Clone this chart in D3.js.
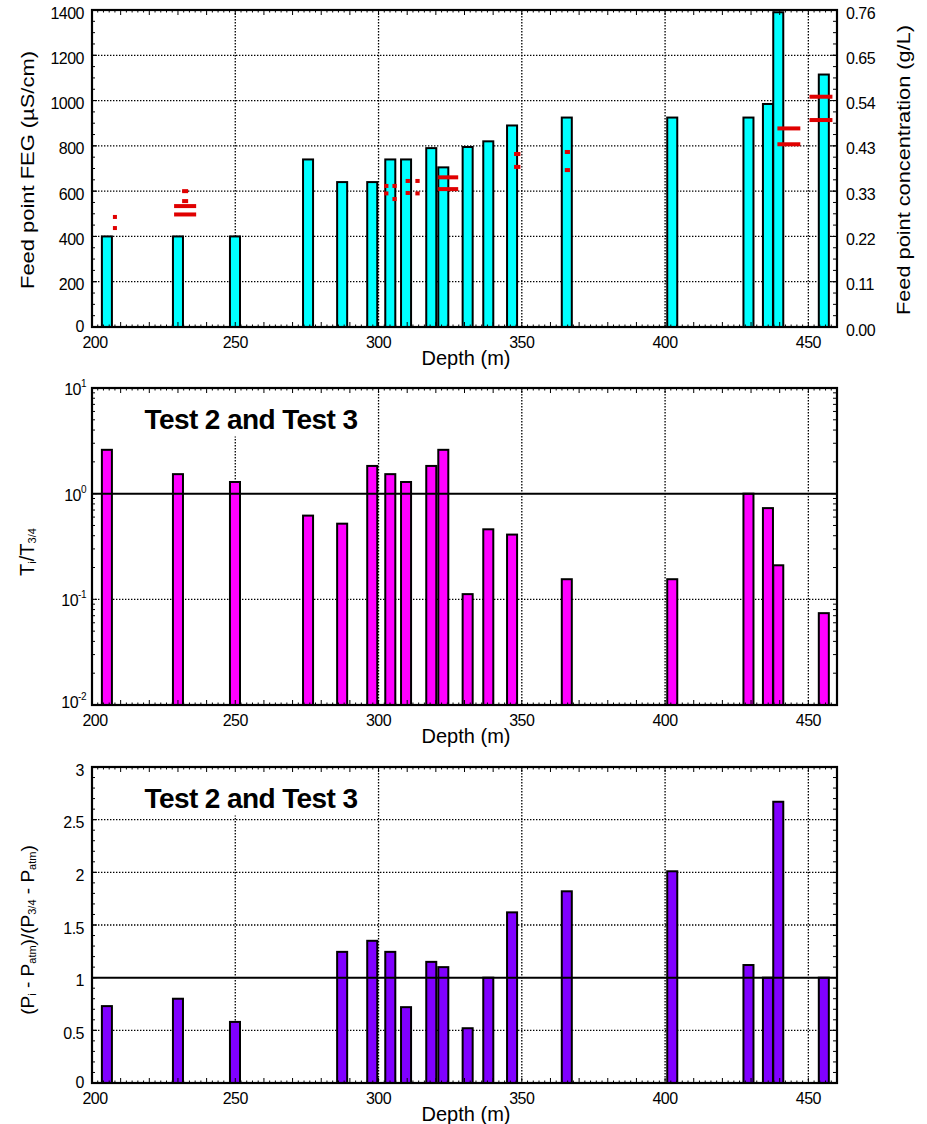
<!DOCTYPE html>
<html><head><meta charset="utf-8">
<script src="https://cdn.jsdelivr.net/npm/d3@7"></script>
<style>
body{margin:0;background:#fff}
svg{display:block}
text{font-family:"Liberation Sans",Arial,sans-serif;fill:#000}
</style>
</head><body>
<svg id="c" width="927" height="1124"></svg>
<script>
// ---------------- DATA ----------------
const depths   = [205.2, 230.0, 249.9, 275.4, 287.3, 297.8, 304.1, 309.6, 318.4, 322.6, 331.1, 338.3, 346.6, 365.7, 402.5, 429.1, 435.9, 439.5, 455.4];
const fecValues = [400, 400, 400, 740, 640, 640, 740, 740, 790, 705, 795, 820, 890, 925, 925, 925, 985, 1390, 1115];
const transRatio = [2.6, 1.53, 1.29, 0.62, 0.52, 1.83, 1.53, 1.29, 1.83, 2.6, 0.112, 0.46, 0.41, 0.155, 0.155, 1.0, 0.73, 0.21, 0.074];
const pressRatio = [0.73, 0.80, 0.58, null, 1.245, 1.35, 1.245, 0.72, 1.15, 1.10, 0.52, 1.0, 1.62, 1.82, 2.01, 1.12, 1.0, 2.67, 1.0];

// red feed-point range marks (depth, FEC value, span in m)
const markDepths = [208.0, 208.0, 232.5, 232.5, 232.5, 232.5, 302.7, 302.7, 305.6, 305.6, 310.2, 310.2, 313.6, 313.6, 324.3, 324.3, 348.4, 348.4, 365.9, 365.9, 443.2, 443.2, 454.4, 454.4];
const markValues = [486, 437, 600, 556, 534, 497, 623, 590, 623, 565, 645, 592, 645, 590, 661, 609, 764, 707, 773, 693, 877, 807, 1017, 914];
const markSpans  = [1.4, 1.4, 2.1, 2.1, 7.7, 7.7, 1.5, 1.5, 1.5, 1.5, 1.5, 1.5, 1.5, 1.5, 7.0, 7.0, 2.2, 2.2, 1.8, 1.8, 8.0, 8.0, 8.0, 8.0];

const depthTicks = [200, 250, 300, 350, 400, 450];
const fecTicks = [0, 200, 400, 600, 800, 1000, 1200, 1400];
const concTickLabels = ["0.00", "0.11", "0.22", "0.33", "0.43", "0.54", "0.65", "0.76"];
const logTicks = [0.01, 0.1, 1, 10];
const logTickExp = ["-2", "-1", "0", "1"];
const pTicks = [0, 0.5, 1, 1.5, 2, 2.5, 3];
const panelTitle = "Test 2 and Test 3";

// ---------------- LAYOUT ----------------
const svg = d3.select('#c');
const X0 = 92, X1 = 837;
const x = d3.scaleLinear().domain([200, 460]).range([X0, X1]);
const BAR_W = 3.5;
const P = {
  top: {y0: 10, y1: 327},
  mid: {y0: 388, y1: 705},
  bot: {y0: 767, y1: 1083}
};
const yTop = d3.scaleLinear().domain([0, 1400]).range([P.top.y1, P.top.y0]);
const yConc = d3.scaleLinear().domain([0, 0.76]).range([P.top.y1, P.top.y0]);
const yMid = d3.scaleLog().domain([0.01, 10]).range([P.mid.y1, P.mid.y0]);
const yBot = d3.scaleLinear().domain([0, 3]).range([P.bot.y1, P.bot.y0]);

const TICKFONT = 16;

function dotted(g, x1, y1, x2, y2) {
  g.append('line').attr('x1', x1).attr('y1', y1).attr('x2', x2).attr('y2', y2)
    .attr('stroke', '#000').attr('stroke-width', 1.3).attr('stroke-dasharray', '1.4,1.6');
}

function xGrid(g, pn) {
  depthTicks.filter(d => d > 200).forEach(d => dotted(g, x(d), pn.y0, x(d), pn.y1));
}

function xAxis(g, pn) {
  const t = g.append('g');
  d3.range(200, 461, 2).forEach(d => {
    const len = d % 10 === 0 ? 5 : 2.5;
    t.append('line').attr('x1', x(d)).attr('x2', x(d)).attr('y1', pn.y1).attr('y2', pn.y1 - len).attr('stroke', '#000').attr('stroke-width', 1);
    t.append('line').attr('x1', x(d)).attr('x2', x(d)).attr('y1', pn.y0).attr('y2', pn.y0 + len).attr('stroke', '#000').attr('stroke-width', 1);
  });
  depthTicks.forEach(d => {
    t.append('text').attr('x', x(d) + (d === 200 ? 3 : 0)).attr('y', pn.y1 + 15).attr('text-anchor', 'middle')
      .attr('dominant-baseline', 'central').attr('font-size', TICKFONT).attr('letter-spacing', -0.5).text(d);
  });
  t.append('text').attr('x', 466).attr('y', pn.y1 + 31).attr('text-anchor', 'middle')
    .attr('dominant-baseline', 'central').attr('font-size', 20).text('Depth (m)');
}

function yMinor(g, scale, vals, side, len) {
  vals.forEach(v => {
    const yy = scale(v);
    if (side === 'left') g.append('line').attr('x1', X0).attr('x2', X0 + len).attr('y1', yy).attr('y2', yy).attr('stroke', '#000');
    else g.append('line').attr('x1', X1).attr('x2', X1 - len).attr('y1', yy).attr('y2', yy).attr('stroke', '#000');
  });
}

function frame(g, pn) {
  g.append('rect').attr('x', X0).attr('y', pn.y0).attr('width', X1 - X0).attr('height', pn.y1 - pn.y0)
    .attr('fill', 'none').attr('stroke', '#000').attr('stroke-width', 2.2);
}

function bars(g, vals, yScale, base, fill) {
  const data = depths.map((d, i) => ({d, v: vals[i]})).filter(o => o.v != null);
  g.selectAll(null).data(data).enter().append('rect')
    .attr('x', o => x(o.d - BAR_W / 2))
    .attr('width', o => x(o.d + BAR_W / 2) - x(o.d - BAR_W / 2))
    .attr('y', o => yScale(o.v))
    .attr('height', o => yScale(base) - yScale(o.v))
    .attr('fill', fill).attr('stroke', '#000').attr('stroke-width', 2);
}

function titleBox(g, pn) {
  const tg = g.append('g');
  const bg = tg.append('rect').attr('fill', '#fff');
  const t = tg.append('text').attr('x', 251).attr('y', pn.y0 + 31).attr('text-anchor', 'middle')
    .attr('dominant-baseline', 'central').attr('font-size', 28).attr('font-weight', 'bold')
    .attr('letter-spacing', -0.6).text(panelTitle);
  const bb = t.node().getBBox();
  bg.attr('x', bb.x - 8).attr('y', pn.y0 + 1).attr('width', bb.width + 16).attr('height', bb.y + bb.height + 2 - (pn.y0 + 1));
}

function refLine(g, yy) {
  g.append('line').attr('x1', X0).attr('x2', X1).attr('y1', yy).attr('y2', yy).attr('stroke', '#000').attr('stroke-width', 2);
}

function rotLabel(g, cx, cy, size, len) {
  const t = g.append('text').attr('transform', `translate(${cx},${cy}) rotate(-90)`)
    .attr('text-anchor', 'middle').attr('dominant-baseline', 'central').attr('font-size', size);
  if (len) t.attr('textLength', len).attr('lengthAdjust', 'spacingAndGlyphs');
  return t;
}

// ---------------- TOP PANEL ----------------
{
  const pn = P.top;
  const g = svg.append('g');
  xGrid(g, pn);
  fecTicks.filter(v => v > 0 && v < 1400).forEach(v => dotted(g, X0, yTop(v), X1, yTop(v)));
  bars(g, fecValues, yTop, 0, '#00ffff');
  const md = markDepths.map((d, i) => ({d, v: markValues[i], s: markSpans[i]}));
  g.selectAll(null).data(md).enter().append('rect')
    .attr('x', o => x(o.d - o.s / 2))
    .attr('width', o => x(o.d + o.s / 2) - x(o.d - o.s / 2))
    .attr('y', o => yTop(o.v) - 2).attr('height', 4)
    .attr('fill', '#e00000');
  frame(g, pn);
  xAxis(g, pn);
  yMinor(g, yTop, d3.range(0, 1401, 50), 'left', 3);
  yMinor(g, yTop, fecTicks, 'left', 5);
  yMinor(g, yTop, d3.range(0, 1401, 50), 'right', 4);
  yMinor(g, yTop, fecTicks, 'right', 6);
  fecTicks.forEach(v => {
    g.append('text').attr('x', 84).attr('y', yTop(v) + (v === 0 ? -1 : 3)).attr('text-anchor', 'end')
      .attr('dominant-baseline', 'central').attr('font-size', TICKFONT).attr('letter-spacing', -0.5).text(v);
  });
  concTickLabels.forEach((lab, i) => {
    g.append('text').attr('x', 846).attr('y', yConc(i * 0.76 / 7) + 3)
      .attr('dominant-baseline', 'central').attr('font-size', TICKFONT).attr('letter-spacing', -0.5).text(lab);
  });
  rotLabel(g, 27, 170, 19, 238).text('Feed point FEG (\u00b5S/cm)');
  rotLabel(g, 903, 170, 19, 290).text('Feed point concentration (g/L)');
}

// ---------------- MIDDLE PANEL ----------------
{
  const pn = P.mid;
  const g = svg.append('g');
  xGrid(g, pn);
  dotted(g, X0, yMid(0.1), X1, yMid(0.1));
  bars(g, transRatio, yMid, 0.01, '#ff00ff');
  refLine(g, yMid(1));
  titleBox(g, pn);
  frame(g, pn);
  xAxis(g, pn);
  const minors = [];
  [0.01, 0.1, 1].forEach(e => d3.range(2, 10).forEach(k => minors.push(k * e)));
  yMinor(g, yMid, minors, 'left', 3);
  yMinor(g, yMid, logTicks, 'left', 5);
  yMinor(g, yMid, minors, 'right', 4);
  yMinor(g, yMid, logTicks, 'right', 6);
  logTicks.forEach((v, i) => {
    const t = g.append('text').attr('x', 86).attr('y', yMid(v) + (i === 0 ? 3 : 7)).attr('text-anchor', 'end')
      .attr('font-size', TICKFONT).attr('letter-spacing', -0.5);
    t.append('tspan').text('10');
    t.append('tspan').attr('dy', -8).attr('font-size', 10).text(logTickExp[i]);
  });
  const lab = rotLabel(g, 27, 552, 20);
  lab.append('tspan').text('T');
  lab.append('tspan').attr('dy', 5).attr('font-size', 11).text('i');
  lab.append('tspan').attr('dy', -5).text('/T');
  lab.append('tspan').attr('dy', 5).attr('font-size', 11).text('3/4');
}

// ---------------- BOTTOM PANEL ----------------
{
  const pn = P.bot;
  const g = svg.append('g');
  xGrid(g, pn);
  pTicks.filter(v => v > 0 && v < 3 && v !== 1).forEach(v => dotted(g, X0, yBot(v), X1, yBot(v)));
  bars(g, pressRatio, yBot, 0, '#8000ff');
  refLine(g, yBot(1));
  titleBox(g, pn);
  frame(g, pn);
  xAxis(g, pn);
  yMinor(g, yBot, d3.range(0, 3.01, 0.1), 'left', 3);
  yMinor(g, yBot, pTicks, 'left', 5);
  yMinor(g, yBot, d3.range(0, 3.01, 0.1), 'right', 4);
  yMinor(g, yBot, pTicks, 'right', 6);
  pTicks.forEach(v => {
    g.append('text').attr('x', 84).attr('y', yBot(v) + (v === 0 ? -1 : 3)).attr('text-anchor', 'end')
      .attr('dominant-baseline', 'central').attr('font-size', TICKFONT).attr('letter-spacing', -0.5).text(v);
  });
  const lab = rotLabel(g, 27, 930, 19);
  const parts = [['(P', 0], ['i', 1], [' - P', 0], ['atm', 1], [')/(P', 0], ['3/4', 1], [' - P', 0], ['atm', 1], [')', 0]];
  let sub = false;
  parts.forEach(([s, isSub]) => {
    const ts = lab.append('tspan').text(s);
    if (isSub && !sub) { ts.attr('dy', 5).attr('font-size', 11); sub = true; }
    else if (isSub) { ts.attr('font-size', 11); }
    else if (sub) { ts.attr('dy', -5); sub = false; }
  });
}
</script>
</body></html>
